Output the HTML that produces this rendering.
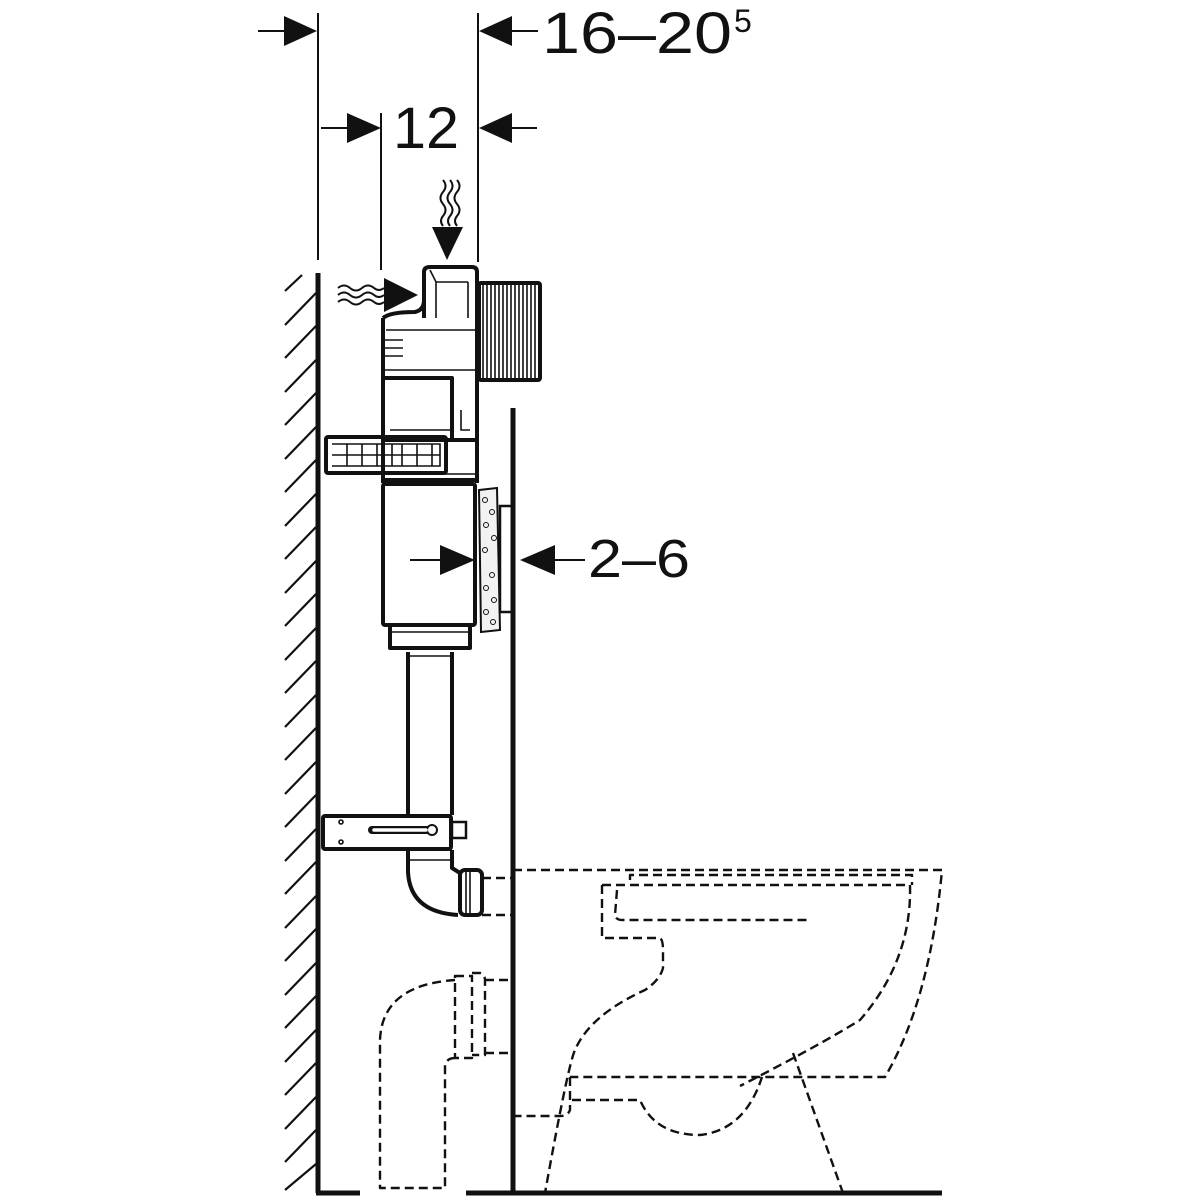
<!DOCTYPE html>
<html><head><meta charset="utf-8"><style>
html,body{margin:0;padding:0;background:#fff;}
svg{display:block}
text{font-family:"Liberation Sans",sans-serif;fill:#111}
</style></head><body>
<svg width="1200" height="1200" viewBox="0 0 1200 1200" xmlns="http://www.w3.org/2000/svg">
<g stroke="#111" fill="none" stroke-linecap="butt">
<line x1="318" y1="13" x2="318" y2="260" stroke-width="2"/>
<line x1="381" y1="113" x2="381" y2="270" stroke-width="2"/>
<line x1="478" y1="13" x2="478" y2="262" stroke-width="2"/>
<line x1="258" y1="31" x2="300" y2="31" stroke-width="2"/>
<line x1="500" y1="31" x2="538" y2="31" stroke-width="2"/>
<line x1="321" y1="128" x2="355" y2="128" stroke-width="2"/>
<line x1="500" y1="128" x2="537" y2="128" stroke-width="2"/>
<line x1="318" y1="273" x2="318" y2="1193" stroke-width="5"/>
<g stroke-width="2.2">
<line x1="285" y1="291" x2="302" y2="275"/>
<path d="M285 325 L316 293 M285 358 L316 326 M285 392 L316 360 M285 425 L316 393 M285 459 L316 427 M285 492 L316 460 M285 526 L316 494 M285 559 L316 527 M285 593 L316 561 M285 626 L316 594 M285 660 L316 628 M285 693 L316 661 M285 727 L316 695 M285 760 L316 728 M285 794 L316 762 M285 827 L316 795 M285 861 L316 829 M285 894 L316 862 M285 928 L316 896 M285 961 L316 929 M285 995 L316 963 M285 1028 L316 996 M285 1062 L316 1030 M285 1095 L316 1063 M285 1129 L316 1097 M285 1162 L316 1130 M285 1190 L316 1164"/>
</g>
<line x1="316" y1="1193" x2="360" y2="1193" stroke-width="5"/>
<line x1="466" y1="1193" x2="942" y2="1193" stroke-width="5"/>
<line x1="513" y1="408" x2="513" y2="1193" stroke-width="5"/>
<g stroke-width="2">
<path d="M443 180 q5 6 0 12 q-5 6 0 12 q5 6 0 12 q-4 5 0 10"/>
<path d="M450 180 q5 6 0 12 q-5 6 0 12 q5 6 0 12 q-4 5 0 10"/>
<path d="M457 180 q5 6 0 12 q-5 6 0 12 q5 6 0 12 q-4 5 0 10"/>
<path d="M338 288 q6 -5 12 0 q6 5 12 0 q6 -5 12 0 q5 4 10 0"/>
<path d="M338 295 q6 -5 12 0 q6 5 12 0 q6 -5 12 0 q5 4 10 0"/>
<path d="M338 302 q6 -5 12 0 q6 5 12 0 q6 -5 12 0 q5 4 10 0"/>
</g>
<g stroke-width="4" stroke-linejoin="round">
<path d="M424 318 L424 272 Q424 267 430 267 L472 267 Q477 267 477 272 L477 318"/>
<rect x="479" y="283" width="61" height="97" rx="2"/>
<path d="M383 318 L383 483 M383 318 Q390 312 415 312 Q424 310 424 300 M477 318 L477 483"/>
<path d="M383 378 L452 378 L452 440 M383 440 L477 440"/>
<rect x="326" y="437" width="120" height="36" rx="2"/>
<path d="M383 480 L477 480"/>
<rect x="383" y="484" width="92" height="141" rx="2"/>
<path d="M390 625 L390 648 L470 648 L470 625"/>
<path d="M408 652 L408 815 M452 652 L452 815"/>
<rect x="323" y="816" width="128" height="33" rx="2"/>
<path d="M408 850 L408 872 Q410 912 458 915 M452 850 L452 868 L460 873"/>
<rect x="460" y="870" width="22" height="45" rx="5"/>
</g>
<g stroke-width="1.6">
<path d="M436 282 L436 318 M468 282 L468 318 M430 270 L436 282 L468 282"/>
<path d="M386 330 L477 330 M384 370 L477 370 M390 430 L452 430 M387 474 L477 474"/>
<path d="M483 285 L483 378 M487 285 L487 378 M491 285 L491 378 M495 285 L495 378 M499 285 L499 378 M503 285 L503 378 M507 285 L507 378 M511 285 L511 378 M515 285 L515 378 M519 285 L519 378 M523 285 L523 378 M527 285 L527 378 M531 285 L531 378 M535 285 L535 378"/>
<path d="M385 340 L403 340 M385 348 L403 348 M385 356 L403 356"/>
<path d="M332 444 L440 444 L440 466 L332 466 M347 444 L347 466 M362 444 L362 466 M377 444 L377 466 M392 444 L392 466 M402 444 L402 466 M417 444 L417 466 M432 444 L432 466 M332 455 L440 455"/>
<path d="M392 632 L468 632 M410 656 L450 656 M410 860 L452 860 M466 872 L466 913 M470 872 L470 913"/>
<path d="M372 830 L428 830" stroke-width="8" stroke-linecap="round"/>
<circle cx="432" cy="830" r="5" fill="#fff" stroke-width="2"/>
<rect x="452" y="822" width="14" height="16" stroke-width="2.5"/>
<circle cx="341" cy="822" r="2"/><circle cx="341" cy="842" r="2"/>
<path d="M461 410 L461 430 L470 430"/>
</g>
<line x1="374" y1="830" x2="426" y2="830" stroke="#fff" stroke-width="3.5" stroke-linecap="round"/>
<path d="M479 490 L497 488 L500 630 L481 632 Z" stroke-width="2" fill="#f2f2f2"/>
<g stroke-width="1" fill="none">
<circle cx="485" cy="500" r="2.5"/><circle cx="492" cy="512" r="2.5"/><circle cx="486" cy="525" r="2.5"/><circle cx="494" cy="538" r="2.5"/><circle cx="485" cy="550" r="2.5"/><circle cx="492" cy="575" r="2.5"/><circle cx="486" cy="588" r="2.5"/><circle cx="494" cy="600" r="2.5"/><circle cx="486" cy="612" r="2.5"/><circle cx="493" cy="622" r="2.5"/>
</g>
<rect x="500" y="506" width="13" height="106" stroke-width="2.5"/>
<line x1="410" y1="560" x2="440" y2="560" stroke-width="2"/>
<line x1="555" y1="560" x2="585" y2="560" stroke-width="2"/>
<g stroke-width="2.4" stroke-dasharray="9 5" stroke-linejoin="round">
<path d="M513 870 L942 870 Q930 1000 885 1077 L570 1077"/>
<path d="M630 880 L630 875 L912 875 L912 885"/>
<path d="M602 885 L910 885 Q912 960 860 1020 Q820 1045 740 1086"/>
<path d="M602 885 L602 938 L660 938 Q663 940 663 950 L663 968 Q660 980 645 990 Q590 1015 575 1050 Q568 1065 545 1193"/>
<path d="M617 890 L615 915 Q616 920 622 920 L808 920"/>
<path d="M570 1077 L570 1110 Q568 1116 560 1116 L515 1116"/>
<path d="M572 1100 L640 1100 Q655 1135 700 1135 Q745 1130 762 1077"/>
<path d="M793 1053 L843 1193"/>
<path d="M482 878 L513 878 M482 915 L513 915"/>
<path d="M455 980 Q382 985 380 1040 L380 1188 L445 1188 L445 1065 Q447 1058 455 1058"/>
<path d="M455 976 L472 976 L472 1058 L455 1058 Z"/>
<path d="M472 973 L480 973 Q485 975 485 980 L485 1055 L472 1055"/>
<path d="M485 980 L513 980 M485 1053 L513 1053"/>
</g>
</g>
<g fill="#111">
<polygon points="284,16 317,31 284,46"/>
<polygon points="512,16 479,31 512,46"/>
<polygon points="347,113 381,128 347,143"/>
<polygon points="512,113 479,128 512,143"/>
<polygon points="432,227 463,227 447,260"/>
<polygon points="384,278 418,295 384,312"/>
<polygon points="440,545 475,560 440,575"/>
<polygon points="555,545 520,560 555,575"/>
</g>
<text x="542" y="53" font-size="58" textLength="190" lengthAdjust="spacingAndGlyphs">16–20</text>
<text x="734" y="32" font-size="32">5</text>
<text x="393" y="148" font-size="58" textLength="66" lengthAdjust="spacingAndGlyphs">12</text>
<text x="588" y="577" font-size="54" textLength="102" lengthAdjust="spacingAndGlyphs">2–6</text>
</svg>
</body></html>
